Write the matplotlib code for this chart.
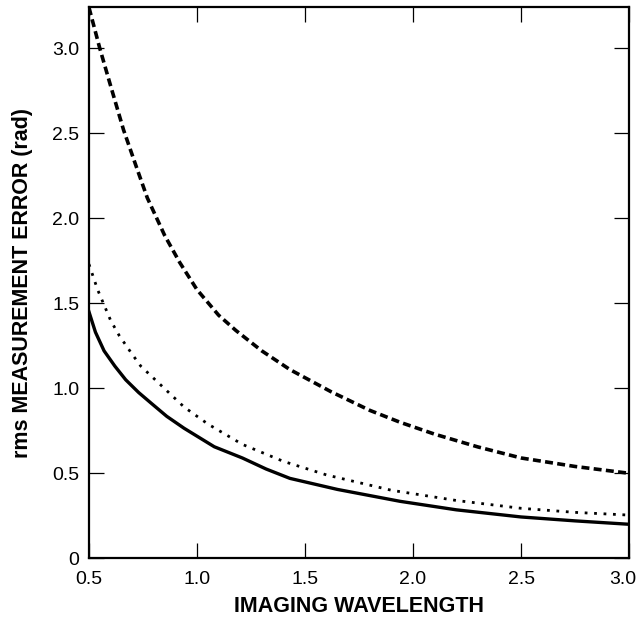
import matplotlib
matplotlib.use("Agg")
import matplotlib.pyplot as plt
import matplotlib.transforms as mtransforms

plt.rcParams['font.family'] = ['Liberation Sans', 'DejaVu Sans']

# Imaging wavelength vs rms measurement error (rad)
wl_dashed = [0.5, 0.55, 0.6, 0.66, 0.72, 0.77, 0.85, 0.92, 1.0, 1.1, 1.18, 1.3,
             1.43, 1.62, 1.8, 1.94, 2.1, 2.3, 2.5, 2.75, 3.0]
err_dashed = [3.24, 3.0, 2.78, 2.52, 2.30, 2.12, 1.90, 1.74, 1.58, 1.43, 1.34, 1.22,
              1.11, 0.98, 0.87, 0.80, 0.73, 0.655, 0.59, 0.54, 0.50]

wl_dotted = [0.5, 0.54, 0.6, 0.64, 0.7, 0.74, 0.84, 0.94, 1.05, 1.21, 1.4, 1.6,
             1.9, 2.2, 2.5, 2.75, 3.0]
err_dotted = [1.73, 1.58, 1.40, 1.31, 1.20, 1.13, 1.01, 0.89, 0.79, 0.67, 0.57, 0.49,
              0.40, 0.34, 0.294, 0.27, 0.254]

wl_solid = [0.5, 0.53, 0.57, 0.62, 0.67, 0.73, 0.79, 0.86, 0.94, 1.08, 1.21, 1.32,
            1.43, 1.65, 1.94, 2.2, 2.5, 2.75, 3.0]
err_solid = [1.45, 1.33, 1.22, 1.13, 1.05, 0.975, 0.91, 0.835, 0.765, 0.656, 0.59, 0.525,
             0.47, 0.405, 0.335, 0.285, 0.243, 0.22, 0.20]

x_ticks = [0.5, 1.0, 1.5, 2.0, 2.5, 3.0]
x_tick_labels = ['0.5', '1.0', '1.5', '2.0', '2.5', '3.0']
y_ticks = [0, 0.5, 1.0, 1.5, 2.0, 2.5, 3.0]
y_tick_labels = ['0', '0.5', '1.0', '1.5', '2.0', '2.5', '3.0']

fig = plt.figure(figsize=(6.4, 6.21), dpi=100)
ax = fig.add_axes([0.139, 0.101, 0.844, 0.887])

ax.plot(wl_dashed, err_dashed, color='black', lw=2.6, linestyle=(0, (2.2, 1.2)),
        dash_capstyle='butt', dash_joinstyle='round')
ax.plot(wl_dotted, err_dotted, color='black', lw=2.0, linestyle=(0, (1.0, 2.4)))
ax.plot(wl_solid, err_solid, color='black', lw=2.4, solid_joinstyle='round')

ax.set_xlim(0.5, 3.0)
ax.set_ylim(0, 3.24)
ax.set_xticks(x_ticks)
ax.set_xticklabels(x_tick_labels)
ax.set_yticks(y_ticks)
ax.set_yticklabels(y_tick_labels)

ax.tick_params(direction='in', length=11, width=0.9, top=True, right=True,
               labelsize=14, colors='black')
ax.tick_params(axis='y', pad=7)
ax.tick_params(axis='x', pad=9)
for s in ax.spines.values():
    s.set_linewidth(1.6)

# keep the last x tick label inside the figure
last = ax.get_xticklabels()[-1]
last.set_transform(last.get_transform() +
                   mtransforms.ScaledTranslation(-6 / 100, 0, fig.dpi_scale_trans))

ax.set_xlabel('IMAGING WAVELENGTH', fontsize=15.5, fontweight='bold', labelpad=6)
ax.set_ylabel('rms MEASUREMENT ERROR (rad)', fontsize=15.5, fontweight='bold', labelpad=14)

fig.savefig('out.png', dpi=100)
